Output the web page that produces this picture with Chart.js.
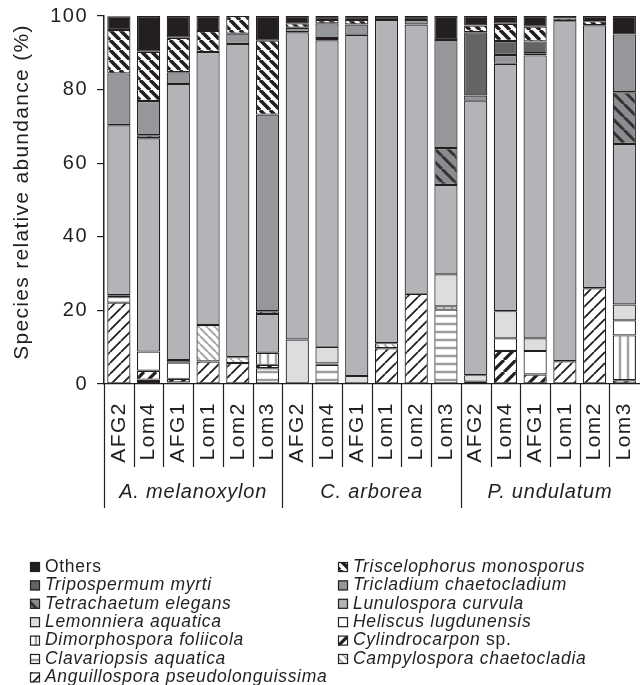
<!DOCTYPE html>
<html>
<head>
<meta charset="utf-8">
<script src="https://cdn.jsdelivr.net/npm/chart.js@4.4.1/dist/chart.umd.min.js"></script>
<style>
  html, body { margin: 0; padding: 0; background: #fff; overflow: hidden; }
  canvas { display: block; }
</style>
</head>
<body>
<canvas id="abundanceChart" width="660" height="685"></canvas>
<script>
// samples (x axis) and host plant groups
const samples = ['AFG2', 'Lom4', 'AFG1', 'Lom1', 'Lom2', 'Lom3',
                 'AFG2', 'Lom4', 'AFG1', 'Lom1', 'Lom2', 'Lom3',
                 'AFG2', 'Lom4', 'AFG1', 'Lom1', 'Lom2', 'Lom3'];
const groups = ['A. melanoxylon', 'C. arborea', 'P. undulatum'];
const yTicks = [0, 20, 40, 60, 80, 100];

// relative abundance (%) of each species, same order as samples
const others         = [3.7, 9.7, 5.9, 4.1, 0, 6.7,   2.0, 1.1, 1.1, 1.1, 1.1, 6.5,   2.6, 2.1, 2.9, 0.7, 1.4, 5.0];
const triscelophorus = [11.8, 13.4, 9.4, 5.7, 4.8, 20.1, 1.2, 0.9, 1.2, 0, 0, 0,     1.8, 4.7, 4.0, 0.7, 1.1, 0];
const tripospermum   = [0, 0, 0, 0, 0, 0,             0, 0, 0, 0, 0, 0,             17.2, 3.8, 3.2, 0, 0, 0];
const tricladium     = [14.1, 9.3, 3.2, 0, 2.8, 53.4, 1.2, 4.0, 2.8, 0, 1.2, 29.4,  1.4, 2.4, 0.6, 0, 0, 15.7];
const tetrachaetum   = [0, 0.8, 0, 0, 0, 0.8,         0, 0.6, 0, 0, 0, 10.0,        0, 0, 0, 0, 0, 14.1];
const lunulospora    = [46.2, 58.0, 75.0, 74.2, 85.1, 10.5, 83.5, 83.3, 92.7, 87.8, 73.2, 24.3, 74.6, 67.2, 76.9, 92.4, 71.5, 43.6];
const lemonniera     = [0.5, 0, 0.7, 0, 0, 0,         12.1, 4.5, 2.2, 0, 0, 8.7,    1.8, 7.4, 3.4, 0, 0, 4.3];
const heliscus       = [1.5, 5.2, 4.4, 0, 0, 0,       0, 0, 0, 0, 0, 0,             0, 3.4, 6.4, 0, 0, 4.1];
const dimorphospora  = [0, 0, 0, 0, 0, 3.3,           0, 0, 0, 0, 0, 0.9,           0, 0, 0, 0, 0, 12.2];
const cylindrocarpon = [0, 2.4, 1.0, 0, 0, 0.9,       0, 0.4, 0, 0, 0, 0,           0.6, 9.0, 2.6, 0, 0, 1.0];
const clavariopsis   = [0, 0.4, 0, 0, 0, 4.3,         0, 5.2, 0, 0, 0, 20.2,        0, 0, 0, 0, 0, 0];
const campylospora   = [0, 0, 0, 9.9, 1.6, 0,         0, 0, 0, 1.4, 0, 0,           0, 0, 0, 0, 0, 0];
const anguillospora  = [22.1, 0.8, 0.4, 6.1, 5.7, 0,  0, 0, 0, 9.7, 24.5, 0,        0, 0, 0, 6.2, 26.0, 0];

const INK = '#231f20';
const FONT = "'Liberation Sans', Arial, sans-serif";

// hatch fills
function hatch(bg, color, type, size, lw) {
    const c = document.createElement('canvas');
    c.width = size; c.height = size;
    const g = c.getContext('2d');
    g.fillStyle = bg;
    g.fillRect(0, 0, size, size);
    g.strokeStyle = color;
    g.lineWidth = lw;
    g.beginPath();
    for (let k = -1; k <= 1; k++) {
        if (type === '/') { g.moveTo(k * size, size); g.lineTo(k * size + size, 0); }
        if (type === '\\') { g.moveTo(k * size, 0); g.lineTo(k * size + size, size); }
    }
    if (type === '|') { g.moveTo(size / 2, 0); g.lineTo(size / 2, size); }
    if (type === '-') { g.moveTo(0, size / 2); g.lineTo(size, size / 2); }
    g.stroke();
    return g.createPattern(c, 'repeat');
}

// bottom of the stack first
const series = [
    { label: 'Anguillospora pseudolonguissima', data: anguillospora,  fill: hatch('#fff', INK, '/', 11, 1.8) },
    { label: 'Campylospora chaetocladia',       data: campylospora,   fill: hatch('#fff', '#a9a9ab', '\\', 8, 2) },
    { label: 'Clavariopsis aquatica',           data: clavariopsis,   fill: hatch('#fff', '#9d9d9f', '-', 8, 2.5) },
    { label: 'Cylindrocarpon sp.',              data: cylindrocarpon, fill: hatch('#fff', INK, '/', 12, 3.2) },
    { label: 'Dimorphospora foliicola',         data: dimorphospora,  fill: hatch('#fff', '#a3a3a5', '|', 8, 2.5) },
    { label: 'Heliscus lugdunensis',            data: heliscus,       fill: '#ffffff' },
    { label: 'Lemonniera aquatica',             data: lemonniera,     fill: '#dcdddf' },
    { label: 'Lunulospora curvula',             data: lunulospora,    fill: '#b3b4b7' },
    { label: 'Tetrachaetum elegans',            data: tetrachaetum,   fill: hatch('#8b8c8f', '#333335', '\\', 13, 3) },
    { label: 'Tricladium chaetocladium',        data: tricladium,     fill: '#96979a' },
    { label: 'Tripospermum myrti',              data: tripospermum,   fill: '#636466' },
    { label: 'Triscelophorus monosporus',       data: triscelophorus, fill: hatch('#fff', INK, '\\', 10, 3.6) },
    { label: 'Others',                          data: others,         fill: INK }
];

const datasets = series.map(s => ({
    label: s.label,
    data: s.data.map(v => (v === 0 ? null : v)),
    backgroundColor: s.fill,
    borderColor: INK,
    borderWidth: 1.2,
    borderSkipped: false,
    categoryPercentage: 1,
    barPercentage: 0.78
}));

// texts drawn with a little tracking, like the original figure
const tracking = {
    id: 'tracking',
    beforeUpdate(chart) { chart.ctx.letterSpacing = '1.5px'; },
    beforeDraw(chart) { chart.ctx.letterSpacing = '1.5px'; }
};

// separators under the x axis, group names, y title and legend
const decorations = {
    id: 'decorations',
    afterDraw(chart) {
        const ctx = chart.ctx;
        const x = chart.scales.x;
        const area = chart.chartArea;
        const n = samples.length;
        ctx.save();
        ctx.strokeStyle = INK;
        ctx.lineWidth = 1.2;
        ctx.beginPath();
        for (let i = 0; i < n; i++) {
            const edge = i === 0 ? area.left : (x.getPixelForValue(i - 1) + x.getPixelForValue(i)) / 2;
            const long = i % 6 === 0;
            ctx.moveTo(Math.round(edge) + 0.5, area.bottom);
            ctx.lineTo(Math.round(edge) + 0.5, long ? 508 : 467);
        }
        ctx.stroke();

        // group names
        ctx.fillStyle = INK;
        ctx.font = 'italic 20px ' + FONT;
        ctx.letterSpacing = '0.8px';
        ctx.textAlign = 'center';
        ctx.textBaseline = 'middle';
        groups.forEach((g, gi) => {
            const cx = (x.getPixelForValue(gi * 6) + x.getPixelForValue(gi * 6 + 5)) / 2;
            ctx.fillText(g, cx, 492);
        });

        // y axis title
        ctx.save();
        ctx.translate(22, 192);
        ctx.rotate(-Math.PI / 2);
        ctx.font = '21px ' + FONT;
        ctx.letterSpacing = '1.3px';
        ctx.fillText('Species relative abundance (%)', 0, 0);
        ctx.restore();

        // legend, two columns, top of the stack first
        const items = chart.data.datasets.slice().reverse();
        ctx.textAlign = 'left';
        ctx.letterSpacing = '0.7px';
        items.forEach((ds, k) => {
            const col = k % 2;
            const row = Math.floor(k / 2);
            const sx = col === 0 ? 30 : 338;
            const ty = 567 + row * 18.4;
            ctx.fillStyle = ds.backgroundColor;
            ctx.fillRect(sx, ty - 5, 10, 10);
            ctx.lineWidth = 1.2;
            ctx.strokeStyle = INK;
            ctx.strokeRect(sx + 0.5, ty - 4.5, 9, 9);
            ctx.fillStyle = INK;
            let tx = sx + 15;
            let name = ds.label;
            let tail = '';
            if (name.endsWith(' sp.')) { tail = ' sp.'; name = name.slice(0, -4); }
            // "Others" is not a species name, so it stays upright
            ctx.font = (name === 'Others' ? '' : 'italic ') + '17.5px ' + FONT;
            ctx.fillText(name, tx, ty);
            if (tail) {
                tx += ctx.measureText(name).width;
                ctx.font = '17.5px ' + FONT;
                ctx.fillText(tail, tx, ty);
            }
        });
        ctx.restore();
    }
};

const ctx = document.getElementById('abundanceChart').getContext('2d');
const abundanceChart = new Chart(ctx, {
    type: 'bar',
    data: { labels: samples, datasets: datasets },
    options: {
        responsive: false,
        animation: false,
        layout: { padding: { left: 0, right: 16, top: 16, bottom: 211 } },
        plugins: { legend: { display: false }, tooltip: { enabled: false } },
        scales: {
            x: {
                stacked: true,
                offset: true,
                grid: { display: false },
                border: { display: true, color: INK, width: 1.2 },
                ticks: {
                    autoSkip: false,
                    minRotation: 90,
                    maxRotation: 90,
                    padding: 10,
                    color: INK,
                    font: { family: FONT, size: 21 }
                },
                afterFit: s => { s.height = 90; }
            },
            y: {
                stacked: true,
                min: 0,
                max: 100,
                afterBuildTicks: s => { s.ticks = yTicks.map(v => ({ value: v })); },
                ticks: { padding: 9, color: INK, font: { family: FONT, size: 20 } },
                grid: { drawOnChartArea: false, drawTicks: true, tickLength: 7, color: INK, lineWidth: 1.2 },
                border: { display: true, color: INK, width: 1.5 },
                afterFit: s => { s.width = 104; s.paddingTop = 0; s.paddingBottom = 0; }
            }
        }
    },
    plugins: [tracking, decorations]
});
</script>
</body>
</html>
